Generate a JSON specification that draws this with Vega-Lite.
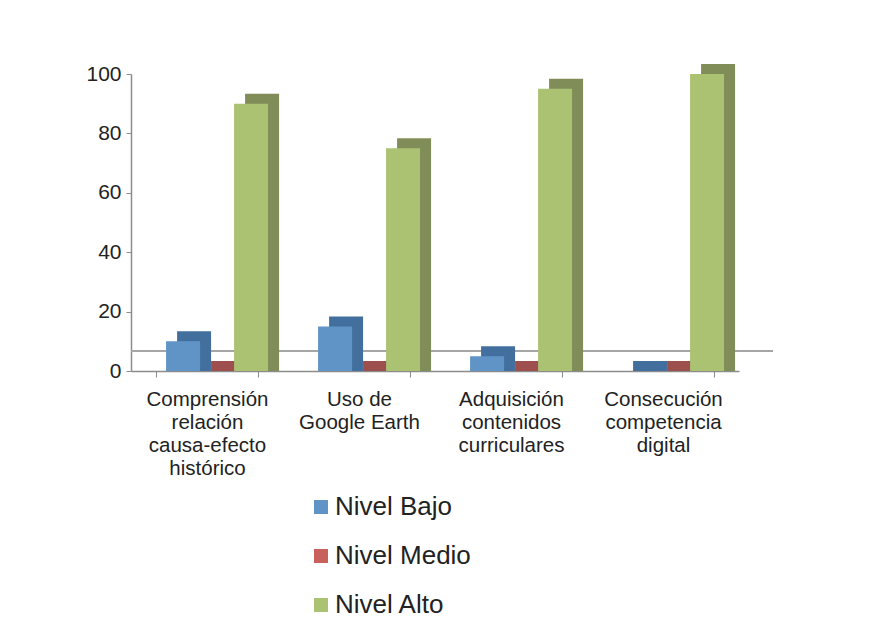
{
  "$schema": "https://vega.github.io/schema/vega-lite/v6.json",
  "width": 608,
  "height": 297,
  "autosize": {"type": "none"},
  "padding": {"left": 131, "top": 74, "right": 138, "bottom": 264},
  "background": "white",
  "config": {
    "view": {"stroke": null},
    "font": "Liberation Sans"
  },
  "data": {
    "values": [
      {"cat": "Comprensión|relación|causa-efecto|histórico", "nivel": "Nivel Bajo", "valor": 10},
      {"cat": "Comprensión|relación|causa-efecto|histórico", "nivel": "Nivel Medio", "valor": 0},
      {"cat": "Comprensión|relación|causa-efecto|histórico", "nivel": "Nivel Alto", "valor": 90},
      {"cat": "Uso de|Google Earth", "nivel": "Nivel Bajo", "valor": 15},
      {"cat": "Uso de|Google Earth", "nivel": "Nivel Medio", "valor": 0},
      {"cat": "Uso de|Google Earth", "nivel": "Nivel Alto", "valor": 75},
      {"cat": "Adquisición|contenidos|curriculares", "nivel": "Nivel Bajo", "valor": 5},
      {"cat": "Adquisición|contenidos|curriculares", "nivel": "Nivel Medio", "valor": 0},
      {"cat": "Adquisición|contenidos|curriculares", "nivel": "Nivel Alto", "valor": 95},
      {"cat": "Consecución|competencia|digital", "nivel": "Nivel Bajo", "valor": 0},
      {"cat": "Consecución|competencia|digital", "nivel": "Nivel Medio", "valor": 0},
      {"cat": "Consecución|competencia|digital", "nivel": "Nivel Alto", "valor": 100}
    ]
  },
  "layer": [
    {
      "mark": {"type": "rule", "color": "#a6a6a6", "strokeWidth": 2, "xOffset": 34, "x2Offset": 34, "yOffset": -20, "y2Offset": -20},
      "encoding": {
        "y": {"datum": 0, "type": "quantitative", "scale": {"domain": [0, 100]},
          "axis": {"title": null, "values": [0, 20, 40, 60, 80, 100], "grid": false, "labelFontSize": 21, "labelColor": "#222222", "labelPadding": 5, "domainColor": "#8c8c8c", "domainWidth": 1.5, "tickColor": "#8c8c8c", "tickSize": 5}}
      }
    },
    {
      "encoding": {
        "x": {"field": "cat", "type": "nominal", "sort": ["Comprensión|relación|causa-efecto|histórico", "Uso de|Google Earth", "Adquisición|contenidos|curriculares", "Consecución|competencia|digital"], "scale": {"paddingInner": 0.33, "paddingOuter": 0.165},
          "axis": {"title": null, "labelAngle": 0, "labelExpr": "split(datum.label, '|')", "labelFontSize": 20.5, "labelColor": "#222222", "labelLineHeight": 23, "labelPadding": 12, "labelBaseline": "top", "domainColor": "#8c8c8c", "domainWidth": 1.5, "tickColor": "#8c8c8c", "tickBand": "extent", "tickSize": 6, "labelLimit": 200}},
        "y": {"field": "valor", "type": "quantitative", "scale": {"domain": [0, 100]},
          "axis": {"title": null, "values": [0, 20, 40, 60, 80, 100], "grid": false, "labelFontSize": 21, "labelColor": "#222222", "labelPadding": 5, "domainColor": "#8c8c8c", "domainWidth": 1.5, "tickColor": "#8c8c8c", "tickSize": 5}}
      },
      "layer": [
        {
          "mark": {"type": "bar", "yOffset": -10, "y2Offset": 0},
          "encoding": {
            "xOffset": {"field": "nivel", "type": "nominal", "sort": ["Nivel Bajo", "Nivel Medio", "Nivel Alto"], "scale": {"paddingInner": 0, "paddingOuter": 0, "range": [21, 123]}},
            "y2": {"datum": 0},
            "color": {"field": "nivel", "type": "nominal", "scale": {"domain": ["Nivel Bajo", "Nivel Medio", "Nivel Alto"], "range": ["#436f9e", "#9c4f4c", "#808d58"]}, "legend": null}
          }
        },
        {
          "mark": {"type": "bar"},
          "encoding": {
            "xOffset": {"field": "nivel", "type": "nominal", "sort": ["Nivel Bajo", "Nivel Medio", "Nivel Alto"], "scale": {"paddingInner": 0, "paddingOuter": 0, "range": [10, 112]}},
            "color": {"field": "nivel", "type": "nominal", "scale": {"domain": ["Nivel Bajo", "Nivel Medio", "Nivel Alto"], "range": ["#6094c7", "#c8605c", "#aac271"]},
              "legend": {"title": null, "orient": "none", "legendX": 177, "legendY": 420, "padding": 0, "direction": "vertical", "symbolType": "square", "symbolSize": 196, "symbolStrokeWidth": 0, "labelFontSize": 26, "labelColor": "#222222", "rowPadding": 23, "labelOffset": 1}}
          }
        }
      ],
      "resolve": {"scale": {"xOffset": "independent", "color": "independent"}}
    }
  ]
}
